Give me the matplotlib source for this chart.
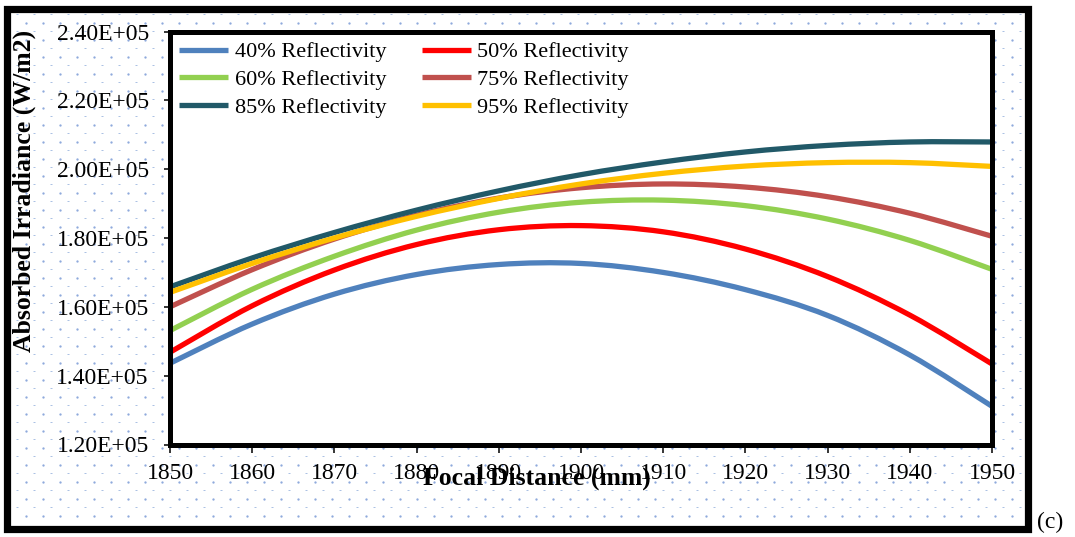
import numpy as np
import matplotlib
matplotlib.use("Agg")
import matplotlib.pyplot as plt
from matplotlib.patches import Rectangle, PathPatch
from matplotlib.path import Path
from matplotlib.lines import Line2D

# values
focal_mm = [1850, 1860, 1870, 1880, 1890, 1900, 1910, 1920, 1930, 1940, 1950]
refl_40 = [1.436, 1.550, 1.637, 1.694, 1.723, 1.726, 1.700, 1.650, 1.575, 1.460, 1.311]
refl_50 = [1.468, 1.603, 1.707, 1.781, 1.824, 1.836, 1.818, 1.768, 1.688, 1.576, 1.434]
refl_60 = [1.531, 1.651, 1.747, 1.823, 1.875, 1.904, 1.910, 1.894, 1.855, 1.793, 1.709]
refl_75 = [1.600, 1.708, 1.797, 1.866, 1.916, 1.946, 1.957, 1.948, 1.920, 1.872, 1.805]
refl_85 = [1.658, 1.742, 1.816, 1.881, 1.937, 1.984, 2.021, 2.050, 2.069, 2.079, 2.079]
refl_95 = [1.642, 1.726, 1.800, 1.863, 1.915, 1.957, 1.988, 2.009, 2.019, 2.019, 2.008]
x_ticks = [1850, 1860, 1870, 1880, 1890, 1900, 1910, 1920, 1930, 1940, 1950]
y_ticks = [1.2e5, 1.4e5, 1.6e5, 1.8e5, 2.0e5, 2.2e5, 2.4e5]

series = [
    ("40% Reflectivity", refl_40, "#4F81BD"),
    ("50% Reflectivity", refl_50, "#FF0000"),
    ("60% Reflectivity", refl_60, "#92D050"),
    ("75% Reflectivity", refl_75, "#C0504D"),
    ("85% Reflectivity", refl_85, "#215968"),
    ("95% Reflectivity", refl_95, "#FFC000"),
]

LW = 3.8


def smooth_path(xs, ys):
    # excel-style smoothed line: cubic bezier segments through the points
    pts = np.column_stack([xs, ys]).astype(float)
    n = len(pts)
    verts = [pts[0]]
    codes = [Path.MOVETO]
    for i in range(n - 1):
        p0 = pts[max(i - 1, 0)]
        p1 = pts[i]
        p2 = pts[i + 1]
        p3 = pts[min(i + 2, n - 1)]
        verts += [p1 + (p2 - p0) / 6, p2 - (p3 - p1) / 6, p2]
        codes += [Path.CURVE4] * 3
    return Path(verts, codes)


plt.rcParams['font.family'] = 'Liberation Serif'

W, H = 1075, 537
fig = plt.figure(figsize=(W / 100, H / 100), dpi=100)
fig.patch.set_facecolor('white')

# background: dotted fill and thick outer frame (pixel coordinates)
bg = fig.add_axes([0, 0, 1, 1], zorder=0)
bg.set_xlim(0, W)
bg.set_ylim(H, 0)
bg.axis('off')
dot_col = '#A9C0E4'
rows = np.arange(14, 524, 8.5)
for i, yy in enumerate(rows):
    if i % 2 == 0:
        xs = np.arange(17, 1024, 17)
        bg.scatter(xs, np.full_like(xs, yy, dtype=float), marker='_', s=2.5,
                   linewidths=0.7, color=dot_col)
    else:
        xs = np.arange(8.5, 1024, 17)
        bg.scatter(xs, np.full_like(xs, yy, dtype=float), marker='o', s=2.8,
                   linewidths=0, color='#8FAADC')
bg.add_patch(Rectangle((6.5, 8.5), 1021, 520, fill=False, edgecolor='black',
                       linewidth=5.2))

# main plot area
left, right, top, bottom = 170, 992, 31.5, 444.5
ax = fig.add_axes([left / W, (H - bottom) / H, (right - left) / W, (bottom - top) / H],
                  zorder=2)
ax.set_facecolor('white')

handles = {}
for label, vals, col in series:
    patch = PathPatch(smooth_path(focal_mm, np.array(vals) * 1e5), facecolor='none',
                      edgecolor=col, linewidth=LW, capstyle='butt',
                      transform=ax.transData)
    ax.add_patch(patch)
    handles[label] = Line2D([], [], color=col, linewidth=LW, solid_capstyle='butt')

ax.set_xlim(1850, 1950)
ax.set_ylim(1.2e5, 2.4e5)
ax.set_xticks(x_ticks)
ax.set_yticks(y_ticks)
ax.set_yticklabels(["%.2fE+05" % (v / 1e5) for v in y_ticks])
ax.tick_params(axis='x', direction='out', length=5.4, width=1.1, pad=8, labelsize=17)
ax.tick_params(axis='y', direction='out', length=4.3, width=1.1, pad=11, labelsize=17)
for sp in ax.spines.values():
    sp.set_linewidth(3.6)
    sp.set_color('black')

# legend filled row by row: 40/50, 60/75, 85/95
order = ["40% Reflectivity", "60% Reflectivity", "85% Reflectivity",
         "50% Reflectivity", "75% Reflectivity", "95% Reflectivity"]
ax.legend([handles[k] for k in order], order, ncol=2, loc='upper left',
          bbox_to_anchor=(0.011, 0.975), frameon=False, fontsize=16,
          handlelength=2.2, handletextpad=0.3, columnspacing=1.6,
          labelspacing=0.33, borderpad=0, borderaxespad=0)

fig.text(537 / W, 1 - 478 / H, "Focal Distance (mm)", fontsize=18.5,
         fontweight='bold', ha='center', va='center', zorder=5)
fig.text(24 / W, 1 - 191 / H, "Absorbed Irradiance (W/m2)", fontsize=18.5,
         fontweight='bold', rotation=90, ha='center', va='center', zorder=5)
fig.text(1050 / W, 1 - 522 / H, "(c)", fontsize=17, ha='center', va='center')

fig.savefig("out.png", dpi=100)
